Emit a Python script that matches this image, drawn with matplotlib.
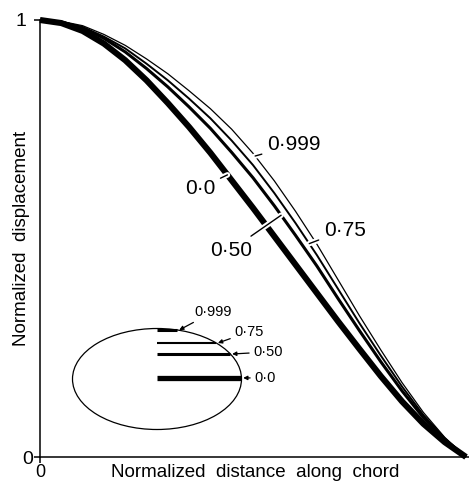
import numpy as np
import matplotlib
matplotlib.use('Agg')
import matplotlib.pyplot as plt
from matplotlib.patches import Ellipse
import matplotlib.patheffects as pe

plt.rcParams['font.family'] = ['Liberation Sans', 'DejaVu Sans']

# ---- data ----
x_pos = [0.0, 0.05, 0.1, 0.15, 0.2, 0.25, 0.3, 0.35, 0.4, 0.45, 0.5,
         0.55, 0.6, 0.65, 0.7, 0.75, 0.8, 0.85, 0.9, 0.95, 1.0]
disp_00 = [1.0, 0.993, 0.975, 0.946, 0.908, 0.862, 0.810, 0.755, 0.696, 0.633, 0.570,
           0.505, 0.440, 0.375, 0.310, 0.247, 0.185, 0.127, 0.076, 0.034, 0.0]
disp_050 = [1.0, 0.995, 0.982, 0.958, 0.927, 0.889, 0.847, 0.801, 0.752, 0.697, 0.639,
            0.575, 0.507, 0.437, 0.362, 0.289, 0.218, 0.151, 0.090, 0.040, 0.0]
disp_075 = [1.0, 0.996, 0.984, 0.962, 0.935, 0.900, 0.862, 0.820, 0.775, 0.724, 0.668,
            0.604, 0.535, 0.462, 0.384, 0.306, 0.232, 0.161, 0.096, 0.043, 0.0]
disp_0999 = [1.0, 0.997, 0.987, 0.967, 0.942, 0.911, 0.877, 0.838, 0.797, 0.750, 0.695,
             0.632, 0.562, 0.487, 0.405, 0.323, 0.245, 0.170, 0.102, 0.045, 0.0]
curve_labels = ['0·0', '0·50', '0·75', '0·999']

# inset: crack lines heights inside the ellipse (axes data units)
inset_labels = ['0·0', '0·50', '0·75', '0·999']
inset_heights = [0.181, 0.2357, 0.2609, 0.2906]

x_tick_labels = ['0']
y_tick_labels = ['0', '1']

W, H = 469, 482
fig = plt.figure(figsize=(W / 100, H / 100), dpi=100)
AX_L, AX_R, AX_T, AX_B = 40, 466, 20, 457
ax = fig.add_axes([AX_L / W, (H - AX_B) / H, (AX_R - AX_L) / W, (AX_B - AX_T) / H])
ax.set_xlim(0, 1)
ax.set_ylim(0, 1)
for s in ['top', 'right']:
    ax.spines[s].set_visible(False)
for s in ['left', 'bottom']:
    ax.spines[s].set_linewidth(1.1)
ax.spines['bottom'].set_bounds(0, 1.01)


def pxy(px, py):
    return ((px - AX_L) / (AX_R - AX_L), (AX_B - py) / (AX_B - AX_T))


series = [disp_00, disp_050, disp_075, disp_0999]
widths = [4.4, 2.2, 1.4, 0.9]
for ys, lw in zip(series, widths):
    ax.plot(x_pos, ys, color='black', lw=lw, solid_capstyle='butt',
            solid_joinstyle='round', clip_on=False, zorder=3)

# ticks
ax.set_xticks([0])
ax.set_xticklabels(x_tick_labels, fontsize=13)
ax.set_yticks([0, 1])
ax.set_yticklabels(y_tick_labels, fontsize=14)
ax.tick_params(axis='both', direction='out', length=4, width=1.1, colors='black')
ax.tick_params(axis='y', pad=1)
ax.tick_params(axis='x', pad=1)
ax.yaxis.get_major_ticks()[1].set_pad(6)

# main curve annotations
halo = [pe.Stroke(linewidth=4, foreground='white'), pe.Normal()]
ann = [
    ('0·0', disp_00, 0.44, (200, 188)),
    ('0·50', disp_050, 0.566, (231, 250)),
    ('0·75', disp_075, 0.632, (345, 230)),
    ('0·999', disp_0999, 0.505, (294, 145)),
]
for lab, ys, xa, (tx, ty) in ann:
    ya = float(np.interp(xa, x_pos, ys))
    a = ax.annotate(lab, xy=(xa, ya), xytext=pxy(tx, ty), fontsize=15,
                    ha='center', va='center', zorder=6,
                    arrowprops=dict(arrowstyle='-', lw=1.0, color='black',
                                    shrinkA=2, shrinkB=0))
    a.arrow_patch.set_path_effects(halo)

# inset ellipse
cx, cy = pxy(157, 379)
ew = 169 / (AX_R - AX_L)
eh = 101 / (AX_B - AX_T)
ax.add_patch(Ellipse((cx, cy), ew, eh, fill=False, lw=0.9, ec='black', zorder=4))
inset_widths = [3.8, 2.2, 1.5, 2.2]
ends = []
for h, lw in zip(inset_heights, inset_widths):
    r = (h - cy) / (eh / 2)
    xe = cx + (ew / 2) * np.sqrt(max(0.0, 1 - r * r))
    ends.append(xe)
    ax.plot([cx, xe], [h, h], color='black', lw=lw, solid_capstyle='butt', zorder=4)

inset_text = [(265, 378), (268, 352), (249, 332), (213, 312)]
for lab, h, xe, (tx, ty) in zip(inset_labels, inset_heights, ends, inset_text):
    ax.annotate(lab, xy=(xe + 0.004, h), xytext=pxy(tx, ty), fontsize=10.5,
                ha='center', va='center', zorder=6,
                arrowprops=dict(arrowstyle='-|>', lw=0.9, color='black',
                                mutation_scale=6, shrinkA=1, shrinkB=0))

# axis labels
fig.text(22 / W, 1 - 238 / H, 'Normalized  displacement', rotation=90,
         ha='center', va='center', fontsize=13.5)
fig.text(255 / W, 1 - 477 / H, 'Normalized  distance  along  chord',
         ha='center', va='baseline', fontsize=13.5)

fig.savefig('out.png', dpi=100, facecolor='white')
